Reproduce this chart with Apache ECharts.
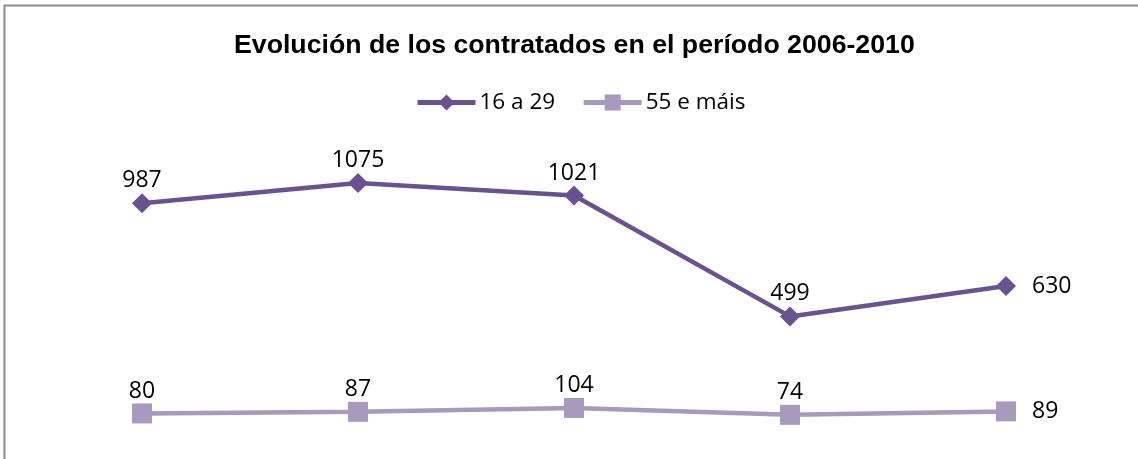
<!DOCTYPE html>
<html>
<head>
<meta charset="utf-8">
<script src="https://cdn.jsdelivr.net/npm/echarts@6/dist/echarts.min.js"></script>
<style>
  html, body { margin: 0; padding: 0; background: #ffffff; }
  #chart { width: 1138px; height: 459px; }
</style>
</head>
<body>
<div id="chart"></div>
<script>
const years = ['2006', '2007', '2008', '2009', '2010'];
const young = [987, 1075, 1021, 499, 630];
const senior = [80, 87, 104, 74, 89];
const seriesNames = ['16 a 29', '55 e máis'];

const labelFont = '"Open Sans", "DejaVu Sans", sans-serif';

// the last point of each series carries its label on the right
function lastRight(values) {
  return values.map((v, i) => i === values.length - 1
    ? { value: v, label: { position: 'right', distance: 16 } }
    : v);
}

const chart = echarts.init(document.getElementById('chart'));
chart.setOption({
  animation: false,
  backgroundColor: '#ffffff',
  graphic: [{
    type: 'rect',
    shape: { x: 4.5, y: 5.5, width: 1200, height: 500 },
    style: { fill: 'none', stroke: '#8a8a8a', lineWidth: 2 },
    silent: true
  }],
  title: {
    text: 'Evolución de los contratados en el período 2006-2010',
    left: 229,
    top: 27,
    textStyle: {
      fontFamily: '"Liberation Sans", Arial, sans-serif',
      fontWeight: 'bold',
      fontSize: 26.7,
      color: '#000000'
    }
  },
  legend: {
    data: seriesNames,
    top: 86,
    left: 410,
    itemWidth: 58,
    itemHeight: 20,
    itemGap: 26,
    lineStyle: { width: 5 },
    textStyle: { fontFamily: labelFont, fontSize: 22.5, color: '#000000', padding: [0, 0, 0, -1] }
  },
  grid: { left: 34, right: 24, top: 154, bottom: 27 },
  xAxis: {
    type: 'category',
    data: years,
    boundaryGap: true,
    show: false
  },
  yAxis: {
    type: 'value',
    min: 0,
    max: 1200,
    show: false
  },
  series: [
    {
      name: seriesNames[0],
      type: 'line',
      data: lastRight(young),
      symbol: 'diamond',
      symbolSize: 20,
      color: '#6b5192',
      lineStyle: { width: 4.5, color: '#6b5192' },
      itemStyle: { color: '#6b5192' },
      label: {
        show: true,
        position: 'top',
        distance: 1,
        fontFamily: labelFont,
        fontSize: 23,
        color: '#000000'
      }
    },
    {
      name: seriesNames[1],
      type: 'line',
      data: lastRight(senior),
      symbol: 'rect',
      symbolSize: 20,
      color: '#a899bf',
      lineStyle: { width: 4.5, color: '#a899bf' },
      itemStyle: { color: '#a899bf' },
      label: {
        show: true,
        position: 'top',
        distance: 1,
        fontFamily: labelFont,
        fontSize: 23,
        color: '#000000'
      }
    }
  ]
});
</script>
</body>
</html>
